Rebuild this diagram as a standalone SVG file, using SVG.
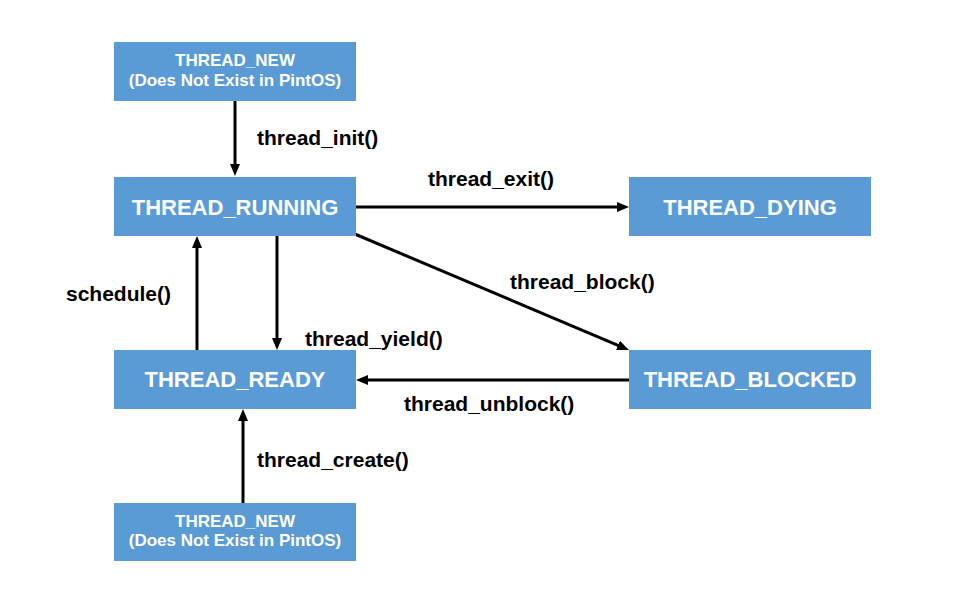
<svg xmlns="http://www.w3.org/2000/svg" width="967" height="598" viewBox="0 0 967 598">
<style>
.box{fill:#5B9BD5}
.bt{fill:#fff;font-family:"Liberation Sans",Arial,sans-serif;font-weight:bold;text-anchor:middle}
.big{font-size:22px}
.small{font-size:17px}
.lbl{fill:#000;font-family:"Liberation Sans",Arial,sans-serif;font-weight:bold;font-size:21px}
.ed{stroke:#000;stroke-width:3;fill:none;marker-end:url(#ah)}
</style>
<defs>
<marker id="ah" markerUnits="userSpaceOnUse" markerWidth="12" markerHeight="10" refX="4" refY="5" orient="auto">
<path d="M0,0 L12,5 L0,10 z" fill="#000"/>
</marker>
</defs>
<rect width="967" height="598" fill="#fff"/>
<g id="connectors">
<line class="ed" x1="235" y1="101" x2="235" y2="168"/>
<line class="ed" x1="356" y1="207" x2="621" y2="207"/>
<line class="ed" x1="350" y1="232" x2="621.6" y2="346.9"/>
<line class="ed" x1="197" y1="350" x2="197" y2="244"/>
<line class="ed" x1="277" y1="236" x2="277" y2="342"/>
<line class="ed" x1="629" y1="380" x2="364" y2="380"/>
<line class="ed" x1="243" y1="503" x2="243" y2="417"/>
</g>
<g id="labels">
<text class="lbl" x="257" y="145">thread_init()</text>
<text class="lbl" x="428" y="186">thread_exit()</text>
<text class="lbl" x="510" y="289">thread_block()</text>
<text class="lbl" x="66" y="301">schedule()</text>
<text class="lbl" x="305" y="346">thread_yield()</text>
<text class="lbl" x="404" y="411">thread_unblock()</text>
<text class="lbl" x="257" y="467">thread_create()</text>
</g>
<g id="new_top">
<rect class="box" x="114" y="42" width="242" height="59"/>
<text class="bt small" x="235" y="66">THREAD_NEW</text>
<text class="bt small" x="235" y="86">(Does Not Exist in PintOS)</text>
</g>
<g id="running">
<rect class="box" x="114" y="177" width="242" height="59"/>
<text class="bt big" x="235" y="215">THREAD_RUNNING</text>
</g>
<g id="dying">
<rect class="box" x="629" y="177" width="242" height="59"/>
<text class="bt big" x="750" y="215">THREAD_DYING</text>
</g>
<g id="ready">
<rect class="box" x="114" y="350" width="242" height="59"/>
<text class="bt big" x="235" y="387">THREAD_READY</text>
</g>
<g id="blocked">
<rect class="box" x="629" y="350" width="242" height="59"/>
<text class="bt big" x="750" y="387">THREAD_BLOCKED</text>
</g>
<g id="new_bottom">
<rect class="box" x="114" y="503" width="242" height="58"/>
<text class="bt small" x="235" y="527">THREAD_NEW</text>
<text class="bt small" x="235" y="546">(Does Not Exist in PintOS)</text>
</g>
</svg>
